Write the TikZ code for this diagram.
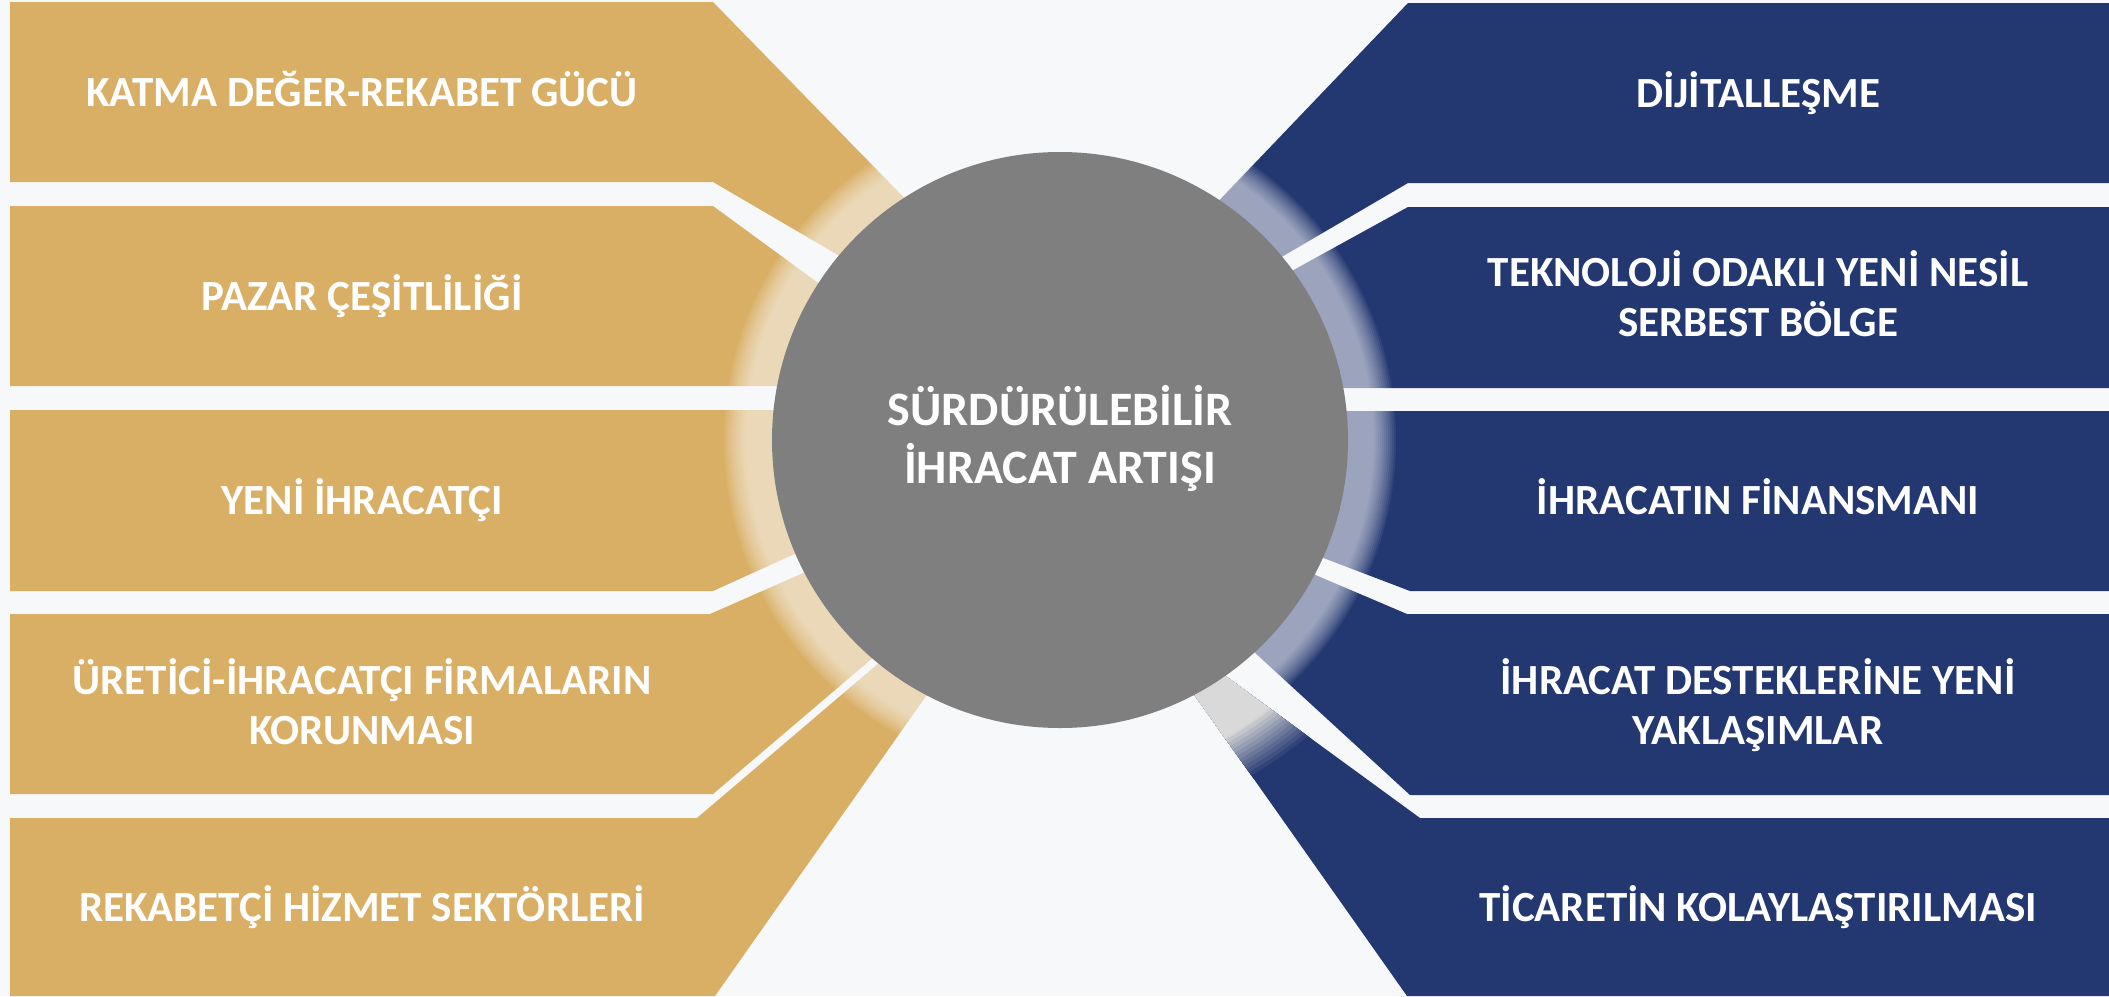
\documentclass[tikz,border=0pt]{standalone}
\usepackage{fontspec}
\setmainfont{Carlito}
\definecolor{gold}{HTML}{D9AF66}
\definecolor{navy}{HTML}{233771}
\definecolor{disc}{HTML}{7F7F7F}
\definecolor{bg}{HTML}{F7F8FA}
\definecolor{glowgray}{HTML}{D9D9D9}
\begin{document}
\begin{tikzpicture}[x=1pt,y=-1pt,
  lbl/.style={text=white,font=\fontsize{43}{50}\selectfont\bfseries,align=center,anchor=base,inner sep=0pt},
  ctr/.style={text=white,font=\fontsize{48}{58}\selectfont\bfseries,align=center,anchor=base,inner sep=0pt}]
\fill[bg] (0,0) rectangle (2109,996);
\useasboundingbox (0,0) rectangle (2109,996);
\coordinate (C) at (1060,440);
% left wedges
\fill[gold] (10,2) -- (713,2) -- (960,255) -- (963,328) -- (713,182) -- (10,182) -- cycle;
\fill[gold] (10,206) -- (713,206) -- (959,386) -- (10,386) -- cycle;
\fill[gold] (10,410) -- (918,410) -- (918,498) -- (713,591) -- (10,591) -- cycle;
\fill[gold] (10,614) -- (710,614) -- (942,512) -- (929,610) -- (713,794) -- (10,794) -- cycle;
\fill[gold] (10,818) -- (697,818) -- (968,587) -- (990,605) -- (715,996) -- (10,996) -- cycle;
% right wedges
\fill[navy] (2109,3) -- (1408,3) -- (1166,256) -- (1162,327) -- (1408,183) -- (2109,183) -- cycle;
\fill[navy] (2109,207) -- (1408,207) -- (1079,388) -- (2109,388) -- cycle;
\fill[navy] (2109,411) -- (1192,411) -- (1192,508) -- (1410,591) -- (2109,591) -- cycle;
\fill[navy] (2109,614) -- (1407,614) -- (1177,516) -- (1204,606) -- (1410,795) -- (2109,795) -- cycle;
\fill[navy] (2109,818) -- (1420,818) -- (1150,621) -- (1131,605) -- (1407,996) -- (2109,996) -- cycle;
% glow ring
\foreach \r in {336,334,...,314} \fill[white,fill opacity=0.066] (C) circle (\r pt);
% grey glow on lower right wedge
\begin{scope}
\clip (2109,818) -- (1420,818) -- (1150,621) -- (1131,605) -- (1407,996) -- (2109,996) -- cycle;
\foreach \r in {390,386,...,342} {
  \pgfmathtruncatemacro\t{(390-\r)*2}
  \fill[glowgray!\t!navy] (C) circle (\r pt);
}
\fill[glowgray] (C) circle (340pt);
\end{scope}
% hub
\node[circle,fill=disc,minimum size=576pt,inner sep=0pt] (hub) at (C) {};
\node[ctr] (hubtext) at (1060,483) {SÜRDÜRÜLEBİLİR\\İHRACAT ARTIŞI};
% labels
\node[lbl] (k1) at (362,106) {KATMA DEĞER-REKABET GÜCÜ};
\node[lbl] (k2) at (362,310) {PAZAR ÇEŞİTLİLİĞİ};
\node[lbl] (k3) at (362,514) {YENİ İHRACATÇI};
\node[lbl] (k4) at (362,744) {ÜRETİCİ-İHRACATÇI FİRMALARIN\\KORUNMASI};
\node[lbl] (k5) at (362,921) {REKABETÇİ HİZMET SEKTÖRLERİ};
\node[lbl] (r1) at (1758,107) {DİJİTALLEŞME};
\node[lbl] (r2) at (1758,336) {TEKNOLOJİ ODAKLI YENİ NESİL\\SERBEST BÖLGE};
\node[lbl] (r3) at (1758,514) {İHRACATIN FİNANSMANI};
\node[lbl] (r4) at (1758,744) {İHRACAT DESTEKLERİNE YENİ\\YAKLAŞIMLAR};
\node[lbl] (r5) at (1758,921) {TİCARETİN KOLAYLAŞTIRILMASI};
\end{tikzpicture}
\end{document}
